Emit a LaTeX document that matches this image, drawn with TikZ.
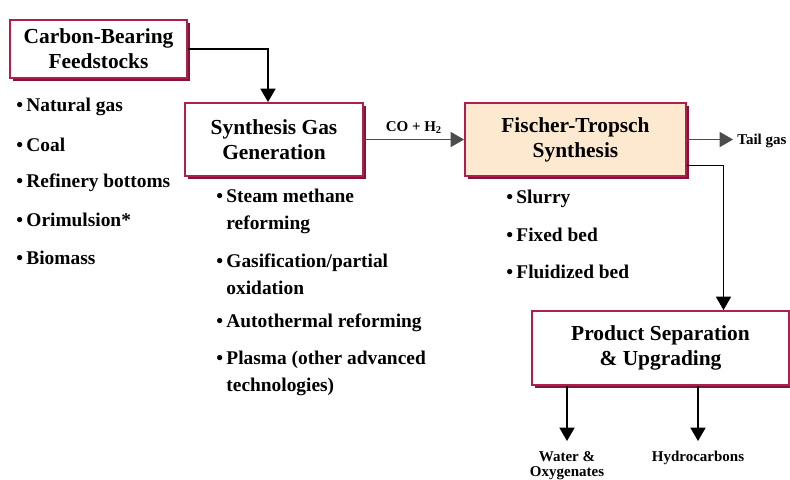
\documentclass[tikz,border=0pt]{standalone}
\usepackage{fontspec}
\setmainfont{Liberation Serif}
\usetikzlibrary{arrows,shadows}
\definecolor{boxred}{RGB}{176,30,80}
\definecolor{shadred}{RGB}{130,20,55}
\definecolor{ftfill}{RGB}{253,232,208}
\tikzset{
  procbox/.style={draw=boxred, line width=1pt, fill=white, align=center, inner sep=0pt,
    font=\bfseries\fontsize{10.7}{12.5}\selectfont,
    drop shadow={shadow xshift=1.5pt, shadow yshift=-1.5pt, fill=shadred, opacity=1}},
  item/.style={anchor=west, align=left, inner sep=0pt, font=\bfseries\fontsize{9.7}{13.5}\selectfont},
  small/.style={inner sep=0pt, align=center, font=\bfseries\fontsize{7.5}{7.8}\selectfont},
  flow/.style={-triangle 60, line width=0.8pt},
}
\begin{document}
\begin{tikzpicture}[x=0.5pt, y=-0.5pt]
      \useasboundingbox (0,0) rectangle (790,479);

      \node [procbox, minimum width=88.5pt, minimum height=29pt]   (feed) at (98.5,49)  {Carbon-Bearing\\Feedstocks};
      \node [procbox, minimum width=89pt, minimum height=36.5pt]   (sgg)  at (274,139.5) {Synthesis Gas\\Generation};
      \node [procbox, fill=ftfill, minimum width=110.5pt, minimum height=36.5pt] (fts) at (575.5,139.5) {Fischer-Tropsch\\Synthesis};
      \node [procbox, minimum width=128.5pt, minimum height=37pt]  (psu)  at (660.5,348) {Product Separation\\\& Upgrading};

      \node [item] (f1) at (16,107) {\textbullet\,Natural gas};
      \node [item] (f2) at (16,145) {\textbullet\,Coal};
      \node [item] (f3) at (16,183) {\textbullet\,Refinery bottoms};
      \node [item] (f4) at (16,220) {\textbullet\,Orimulsion*};
      \node [item] (f5) at (16,258) {\textbullet\,Biomass};

      \node [item] (s1) at (216,211) {\textbullet\,Steam methane\\\phantom{\textbullet\,}reforming};
      \node [item] (s2) at (216,274) {\textbullet\,Gasification/partial\\\phantom{\textbullet\,}oxidation};
      \node [item] (s3) at (216,323) {\textbullet\,Autothermal reforming};
      \node [item] (s4) at (216,373) {\textbullet\,Plasma (other advanced\\\phantom{\textbullet\,}technologies)};

      \node [item] (t1) at (506,199) {\textbullet\,Slurry};
      \node [item] (t2) at (506,235) {\textbullet\,Fixed bed};
      \node [item] (t3) at (506,272) {\textbullet\,Fluidized bed};

      \node [small, anchor=west] (tail)  at (737,141) {Tail gas};
      \node [small, anchor=north] (water) at (567,451) {Water \&\\Oxygenates};
      \node [small, anchor=north] (hc)    at (698,451) {Hydrocarbons};

      \draw [flow] (feed.east) -| ([xshift=-3pt]sgg.north);
      \draw [flow, black!70] (sgg) -- node [small, above=2.5pt, black] (syngas) {CO + H\textsubscript{2}} (fts);
      \draw [flow, black!70, shorten >=2pt] (fts.east) -- (fts.east -| tail.west);
      \draw [flow] ([yshift=-13pt]fts.east) -| ([xshift=31.5pt]psu.north);
      \draw [flow, shorten >=5pt] (psu.south -| water.north) -- (water.north);
      \draw [flow, shorten >=5pt] (psu.south -| hc.north) -- (hc.north);
\end{tikzpicture}
\end{document}
